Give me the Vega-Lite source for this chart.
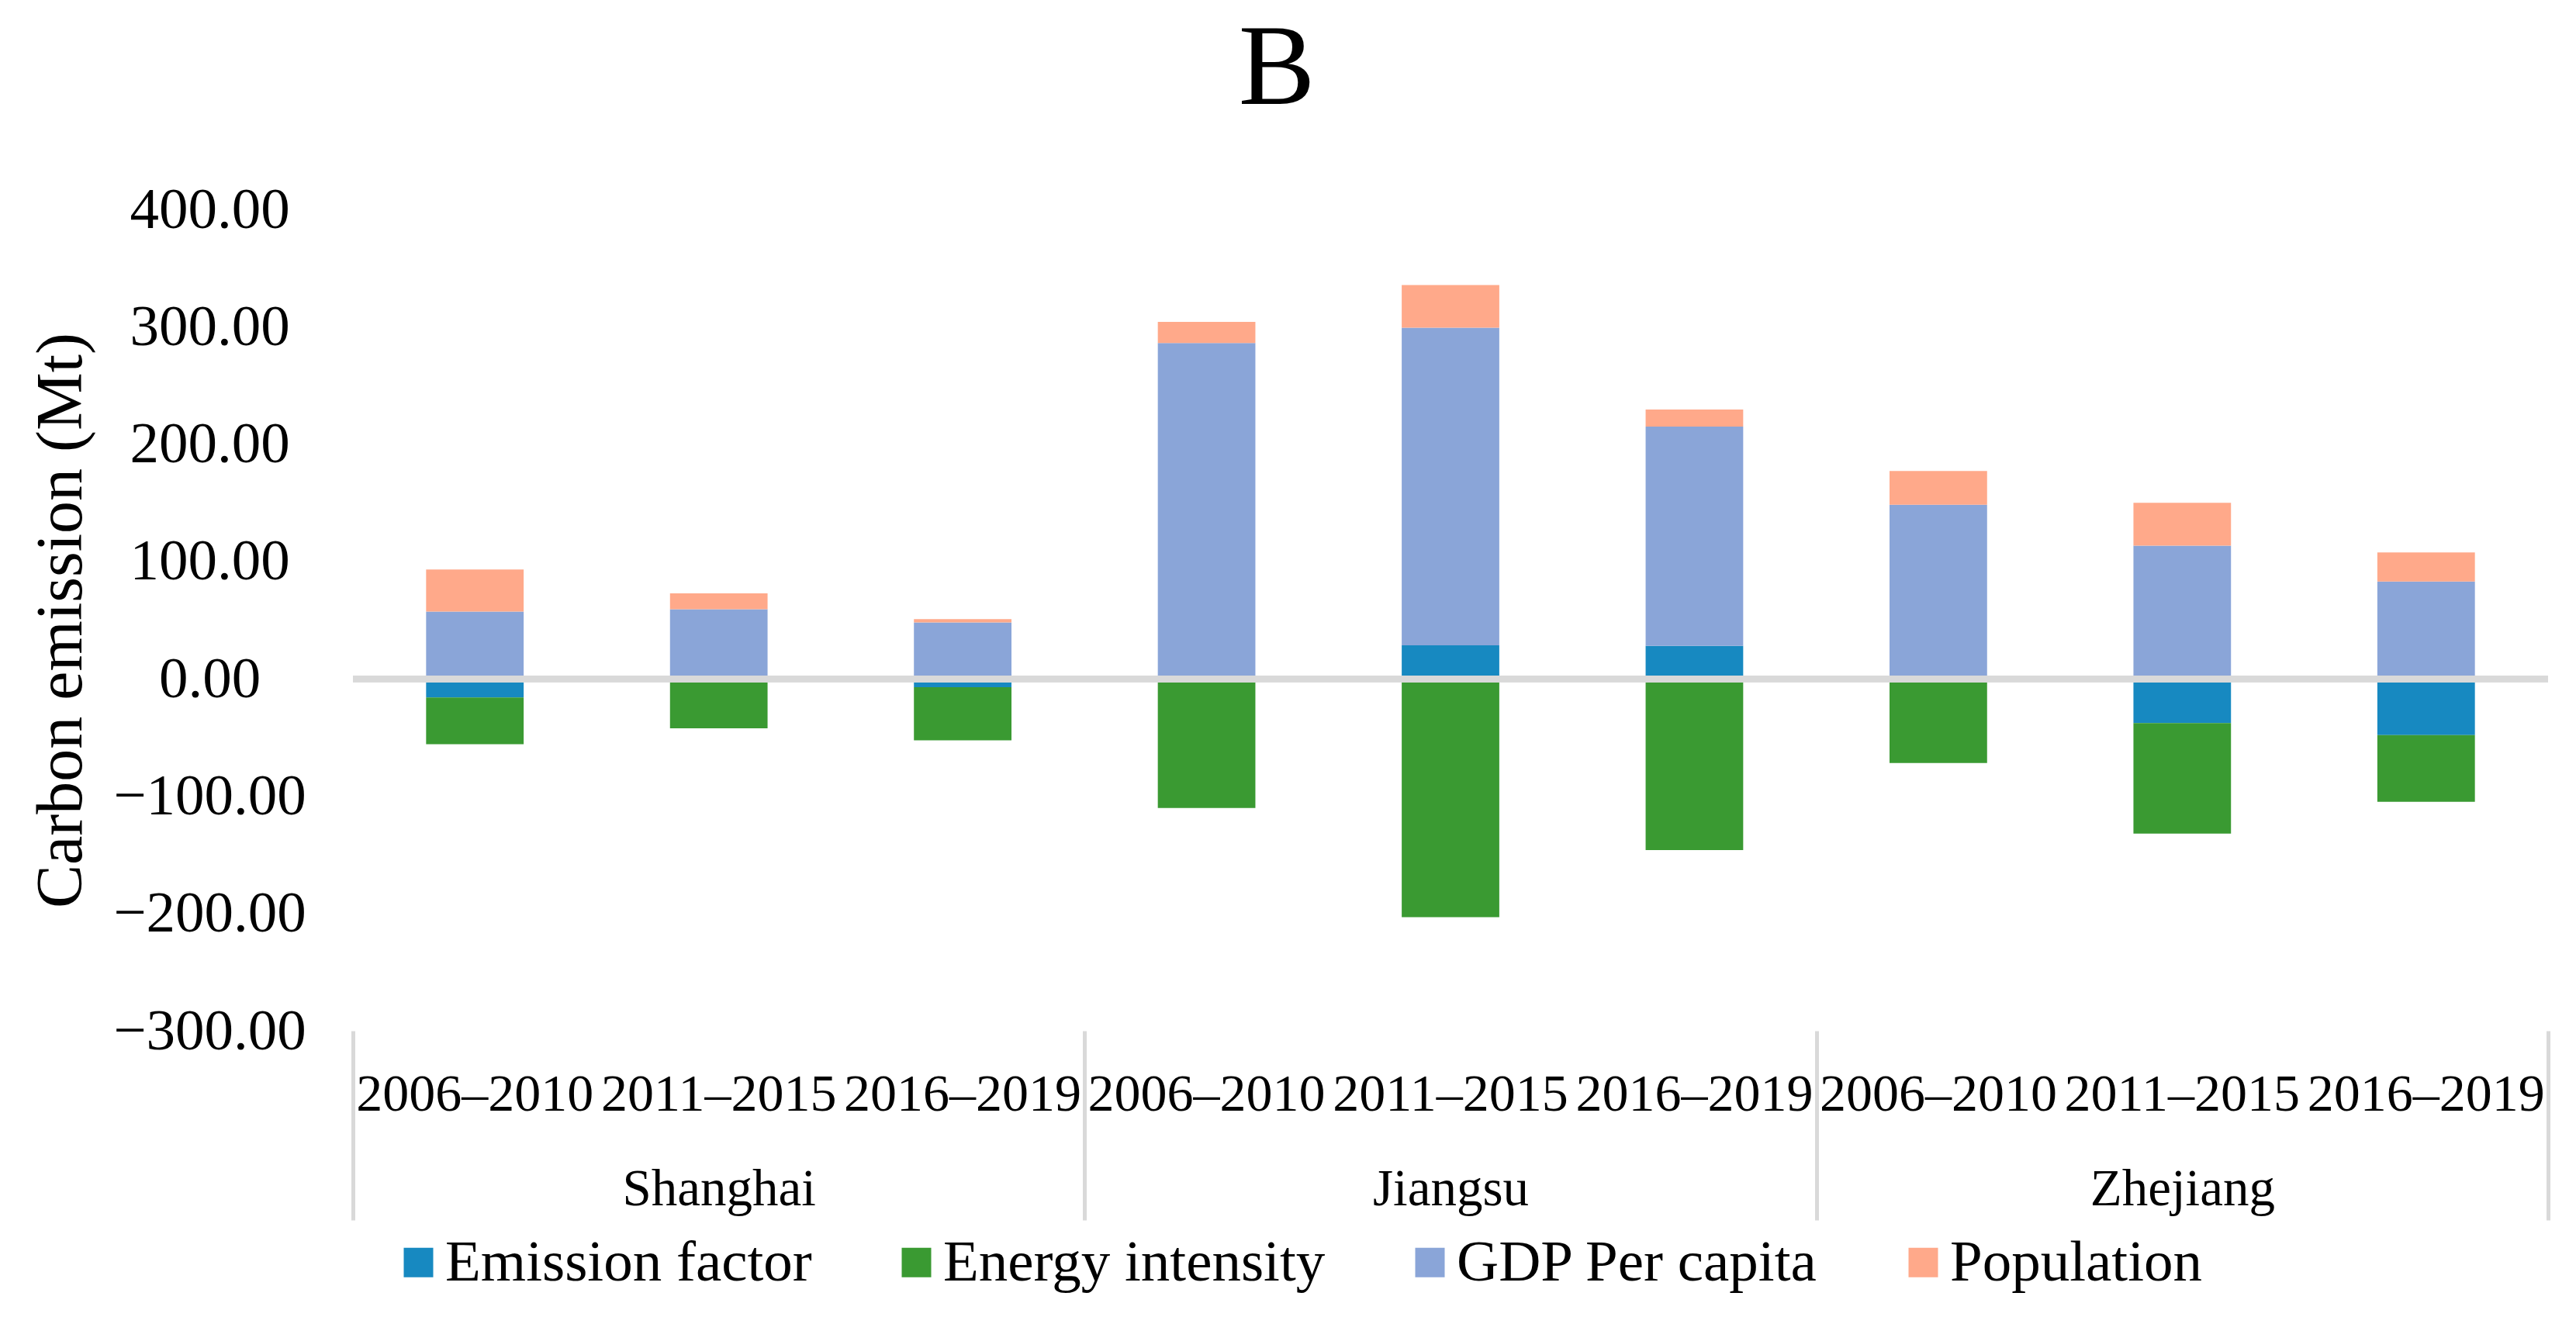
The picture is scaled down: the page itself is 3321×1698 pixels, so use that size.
{
  "$schema": "https://vega.github.io/schema/vega-lite/v6.json",
  "autosize": {"type": "none"},
  "width": 2830,
  "height": 1059,
  "padding": {"left": 455, "top": 270, "right": 36, "bottom": 369},
  "background": "white",
  "config": {
    "view": {"stroke": null},
    "font": "Liberation Serif"
  },
  "title": {
    "text": "B",
    "fontSize": 148,
    "font": "Liberation Serif",
    "fontWeight": "normal",
    "color": "black",
    "anchor": "middle",
    "frame": "bounds",
    "offset": 68,
    "dx": -17
  },
  "data": {
    "values": [
      {"slot": "Shanghai 2006–2010", "region": "Shanghai", "period": "2006–2010", "factor": "Emission factor", "value": -16.0},
      {"slot": "Shanghai 2006–2010", "region": "Shanghai", "period": "2006–2010", "factor": "Energy intensity", "value": -39.8},
      {"slot": "Shanghai 2006–2010", "region": "Shanghai", "period": "2006–2010", "factor": "GDP Per capita", "value": 57.2},
      {"slot": "Shanghai 2006–2010", "region": "Shanghai", "period": "2006–2010", "factor": "Population", "value": 35.9},
      {"slot": "Shanghai 2011–2015", "region": "Shanghai", "period": "2011–2015", "factor": "Emission factor", "value": 0},
      {"slot": "Shanghai 2011–2015", "region": "Shanghai", "period": "2011–2015", "factor": "Energy intensity", "value": -42.2},
      {"slot": "Shanghai 2011–2015", "region": "Shanghai", "period": "2011–2015", "factor": "GDP Per capita", "value": 59.2},
      {"slot": "Shanghai 2011–2015", "region": "Shanghai", "period": "2011–2015", "factor": "Population", "value": 13.6},
      {"slot": "Shanghai 2016–2019", "region": "Shanghai", "period": "2016–2019", "factor": "Emission factor", "value": -7.1},
      {"slot": "Shanghai 2016–2019", "region": "Shanghai", "period": "2016–2019", "factor": "Energy intensity", "value": -45.3},
      {"slot": "Shanghai 2016–2019", "region": "Shanghai", "period": "2016–2019", "factor": "GDP Per capita", "value": 48.0},
      {"slot": "Shanghai 2016–2019", "region": "Shanghai", "period": "2016–2019", "factor": "Population", "value": 2.9},
      {"slot": "Jiangsu 2006–2010", "region": "Jiangsu", "period": "2006–2010", "factor": "Emission factor", "value": 0},
      {"slot": "Jiangsu 2006–2010", "region": "Jiangsu", "period": "2006–2010", "factor": "Energy intensity", "value": -110.1},
      {"slot": "Jiangsu 2006–2010", "region": "Jiangsu", "period": "2006–2010", "factor": "GDP Per capita", "value": 286.2},
      {"slot": "Jiangsu 2006–2010", "region": "Jiangsu", "period": "2006–2010", "factor": "Population", "value": 17.9},
      {"slot": "Jiangsu 2011–2015", "region": "Jiangsu", "period": "2011–2015", "factor": "Emission factor", "value": 28.6},
      {"slot": "Jiangsu 2011–2015", "region": "Jiangsu", "period": "2011–2015", "factor": "Energy intensity", "value": -203.2},
      {"slot": "Jiangsu 2011–2015", "region": "Jiangsu", "period": "2011–2015", "factor": "GDP Per capita", "value": 270.6},
      {"slot": "Jiangsu 2011–2015", "region": "Jiangsu", "period": "2011–2015", "factor": "Population", "value": 36.4},
      {"slot": "Jiangsu 2016–2019", "region": "Jiangsu", "period": "2016–2019", "factor": "Emission factor", "value": 28.1},
      {"slot": "Jiangsu 2016–2019", "region": "Jiangsu", "period": "2016–2019", "factor": "Energy intensity", "value": -146.0},
      {"slot": "Jiangsu 2016–2019", "region": "Jiangsu", "period": "2016–2019", "factor": "GDP Per capita", "value": 186.8},
      {"slot": "Jiangsu 2016–2019", "region": "Jiangsu", "period": "2016–2019", "factor": "Population", "value": 14.5},
      {"slot": "Zhejiang 2006–2010", "region": "Zhejiang", "period": "2006–2010", "factor": "Emission factor", "value": 0},
      {"slot": "Zhejiang 2006–2010", "region": "Zhejiang", "period": "2006–2010", "factor": "Energy intensity", "value": -71.8},
      {"slot": "Zhejiang 2006–2010", "region": "Zhejiang", "period": "2006–2010", "factor": "GDP Per capita", "value": 148.4},
      {"slot": "Zhejiang 2006–2010", "region": "Zhejiang", "period": "2006–2010", "factor": "Population", "value": 28.6},
      {"slot": "Zhejiang 2011–2015", "region": "Zhejiang", "period": "2011–2015", "factor": "Emission factor", "value": -37.8},
      {"slot": "Zhejiang 2011–2015", "region": "Zhejiang", "period": "2011–2015", "factor": "Energy intensity", "value": -94.1},
      {"slot": "Zhejiang 2011–2015", "region": "Zhejiang", "period": "2011–2015", "factor": "GDP Per capita", "value": 113.5},
      {"slot": "Zhejiang 2011–2015", "region": "Zhejiang", "period": "2011–2015", "factor": "Population", "value": 36.4},
      {"slot": "Zhejiang 2016–2019", "region": "Zhejiang", "period": "2016–2019", "factor": "Emission factor", "value": -48.0},
      {"slot": "Zhejiang 2016–2019", "region": "Zhejiang", "period": "2016–2019", "factor": "Energy intensity", "value": -56.8},
      {"slot": "Zhejiang 2016–2019", "region": "Zhejiang", "period": "2016–2019", "factor": "GDP Per capita", "value": 82.9},
      {"slot": "Zhejiang 2016–2019", "region": "Zhejiang", "period": "2016–2019", "factor": "Population", "value": 24.8}
    ]
  },
  "layer": [
    {
      "mark": {"type": "bar"},
      "encoding": {
        "x": {
          "field": "slot",
          "type": "nominal",
          "sort": null,
          "scale": {"paddingInner": 0.6, "paddingOuter": 0.3},
          "axis": {
            "orient": "bottom",
            "title": null,
            "domain": false,
            "ticks": false,
            "tickSize": 0,
            "labelAngle": 0,
            "labelExpr": "split(datum.label, ' ')[1]",
            "labelFont": "Liberation Serif",
            "labelFontSize": 68,
            "labelColor": "black",
            "labelBaseline": "alphabetic",
            "labelPadding": 102,
            "labelLimit": 0,
            "labelOverlap": false
          }
        },
        "y": {
          "field": "value",
          "type": "quantitative",
          "stack": "zero",
          "scale": {"domain": [-300, 400], "nice": false, "zero": false},
          "axis": {
            "title": "Carbon emission (Mt)",
            "titleFont": "Liberation Serif",
            "titleFontSize": 84,
            "titleFontWeight": "normal",
            "titleColor": "black",
            "titlePadding": 133,
            "values": [-300, -200, -100, 0, 100, 200, 300, 400],
            "format": ".2f",
            "grid": false,
            "domain": false,
            "ticks": false,
            "tickSize": 0,
            "labelFont": "Liberation Serif",
            "labelFontSize": 75,
            "labelColor": "black",
            "labelAlign": "center",
            "labelBaseline": "middle",
            "labelPadding": 185,
            "labelLimit": 0
          }
        },
        "color": {
          "field": "factor",
          "type": "nominal",
          "scale": {
            "domain": ["Emission factor", "Energy intensity", "GDP Per capita", "Population"],
            "range": ["#1789C1", "#3A9A32", "#8AA5D8", "#FFA98A"]
          },
          "legend": {
            "orient": "none",
            "legendX": 47,
            "legendY": 1320,
            "direction": "horizontal",
            "title": null,
            "padding": 0,
            "symbolType": "square",
            "symbolSize": 1444,
            "symbolStrokeWidth": 0,
            "symbolOpacity": 1,
            "labelFont": "Liberation Serif",
            "labelFontSize": 75,
            "labelColor": "black",
            "labelOffset": -3,
            "labelLimit": 0,
            "columnPadding": 97
          }
        },
        "order": {"field": "factor", "sort": "ascending"}
      }
    },
    {
      "mark": {"type": "rule", "color": "#D9D9D9", "strokeWidth": 8},
      "encoding": {"y": {"datum": 0}}
    },
    {
      "mark": {"type": "rule", "opacity": 0},
      "encoding": {
        "x": {
          "field": "region",
          "type": "nominal",
          "sort": ["Shanghai", "Jiangsu", "Zhejiang"],
          "scale": {"paddingInner": 0, "paddingOuter": 0},
          "axis": {
            "orient": "bottom",
            "title": null,
            "domain": false,
            "ticks": true,
            "tickBand": "extent",
            "tickSize": 244,
            "tickWidth": 5,
            "tickColor": "#D9D9D9",
            "labelAngle": 0,
            "labelFont": "Liberation Serif",
            "labelFontSize": 67,
            "labelColor": "black",
            "labelBaseline": "alphabetic",
            "labelPadding": -20,
            "labelLimit": 0
          }
        }
      }
    }
  ],
  "resolve": {"scale": {"x": "independent"}, "axis": {"x": "independent"}}
}
